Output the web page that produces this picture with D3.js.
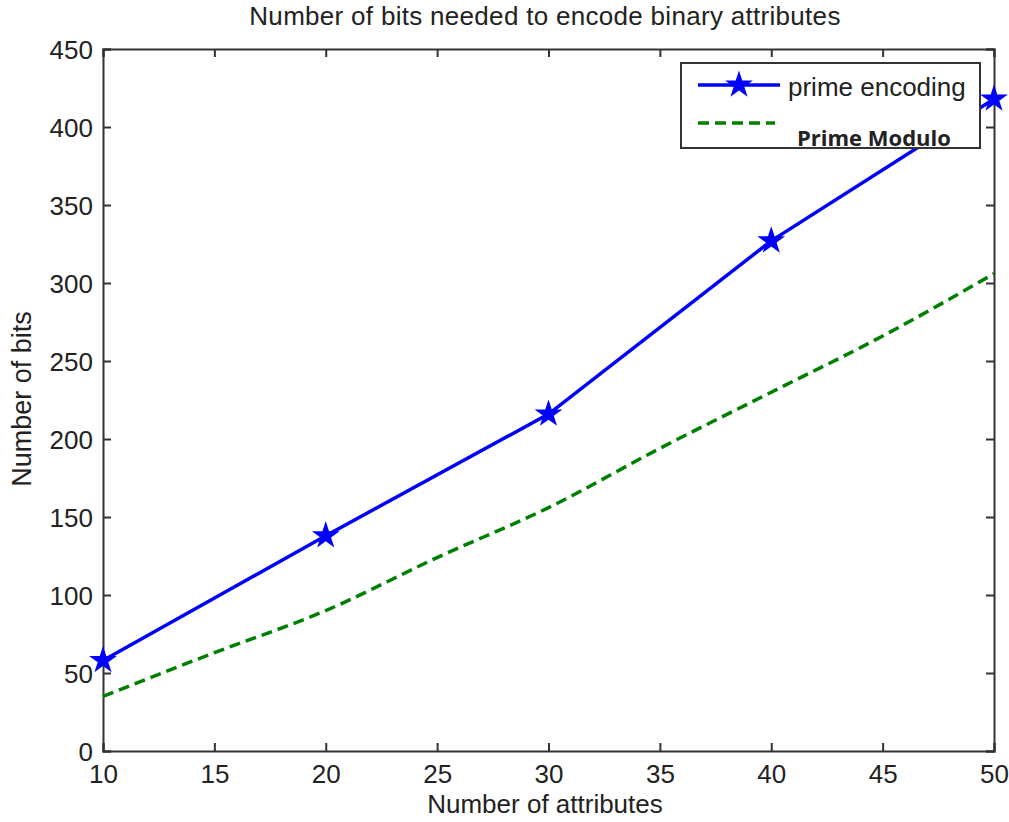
<!DOCTYPE html>
<html>
<head>
<meta charset="utf-8">
<script src="https://cdn.jsdelivr.net/npm/d3@7"></script>
<style>
  body { margin: 0; background: #fff; }
  text { font-family: "Liberation Sans", Arial, sans-serif; fill: #222; }
</style>
</head>
<body>
<svg id="canvas"></svg>
<script>
// data
let attrs = [10, 20, 30, 40, 50];
let primeEncoding = [58, 138, 216, 327, 418];
let moduloX = [10, 15, 20, 25, 30, 35, 40, 45, 50];
let primeModulo = [35, 63, 90, 124, 156, 194, 230, 266, 306];
let xTicks = [10, 15, 20, 25, 30, 35, 40, 45, 50];
let yTicks = [0, 50, 100, 150, 200, 250, 300, 350, 400, 450];

let width = 1009, height = 822;
let plotL = 103, plotR = 994, plotT = 49, plotB = 751;

let svg = d3.select('#canvas')
    .attr('width', width)
    .attr('height', height);

let x = d3.scaleLinear().domain([10, 50]).range([plotL, plotR]);
let y = d3.scaleLinear().domain([0, 450]).range([plotB, plotT]);

// box + inward ticks on all four sides
svg.append('g')
    .attr('transform', 'translate(0,' + plotB + ')')
    .call(d3.axisBottom(x).tickValues(xTicks).tickSize(-8).tickPadding(12))
    .call(g => g.selectAll('text').attr('font-size', 26).attr('dy', '0.75em'));
svg.append('g')
    .attr('transform', 'translate(0,' + plotT + ')')
    .call(d3.axisTop(x).tickValues(xTicks).tickSize(-8).tickFormat(''));
svg.append('g')
    .attr('transform', 'translate(' + plotL + ',0)')
    .call(d3.axisLeft(y).tickValues(yTicks).tickSize(-8).tickPadding(10))
    .call(g => g.selectAll('text').attr('font-size', 26).attr('dy', '0.36em'));
svg.append('g')
    .attr('transform', 'translate(' + plotR + ',0)')
    .call(d3.axisRight(y).tickValues(yTicks).tickSize(-8).tickFormat(''));

svg.selectAll('.domain, .tick line')
    .attr('stroke', '#333')
    .attr('stroke-width', 2);
svg.selectAll('.tick text').attr('fill', '#222').attr('font-family', '"Liberation Sans", Arial, sans-serif');

// lines
let line = d3.line().x(d => x(d[0])).y(d => y(d[1])).curve(d3.curveMonotoneX);

svg.append('path')
    .datum(moduloX.map((v, i) => [v, primeModulo[i]]))
    .attr('d', line)
    .attr('fill', 'none')
    .attr('stroke', '#008000')
    .attr('stroke-width', 3.5)
    .attr('stroke-dasharray', '11,6');

svg.append('path')
    .datum(attrs.map((v, i) => [v, primeEncoding[i]]))
    .attr('d', d3.line().x(d => x(d[0])).y(d => y(d[1])))
    .attr('fill', 'none')
    .attr('stroke', '#0000ff')
    .attr('stroke-width', 3.5);

let star = d3.symbol().type(d3.symbolStar).size(240);
svg.selectAll('.star')
    .data(attrs)
    .enter()
    .append('path')
    .attr('class', 'star')
    .attr('d', star)
    .attr('transform', (d, i) => 'translate(' + x(d) + ',' + y(primeEncoding[i]) + ')')
    .attr('fill', '#0000ff');

// legend
let legend = svg.append('g');
legend.append('rect')
    .attr('x', 681).attr('y', 63)
    .attr('width', 299).attr('height', 85)
    .attr('fill', '#fff')
    .attr('stroke', '#333')
    .attr('stroke-width', 2);
legend.append('line')
    .attr('x1', 698).attr('x2', 780).attr('y1', 85).attr('y2', 85)
    .attr('stroke', '#0000ff').attr('stroke-width', 3.5);
legend.append('path')
    .attr('d', star)
    .attr('transform', 'translate(739,85)')
    .attr('fill', '#0000ff');
legend.append('text')
    .attr('x', 788).attr('y', 96)
    .attr('font-size', 26)
    .text('prime encoding');
legend.append('line')
    .attr('x1', 698).attr('x2', 775).attr('y1', 123).attr('y2', 123)
    .attr('stroke', '#008000').attr('stroke-width', 3.5)
    .attr('stroke-dasharray', '11,6');
legend.append('text')
    .attr('x', 797).attr('y', 146)
    .attr('font-size', 22)
    .attr('font-weight', 'bold')
    .style('font-family', '"Open Sans", sans-serif')
    .text('Prime Modulo');

// titles
svg.append('text')
    .attr('x', 545).attr('y', 25)
    .attr('text-anchor', 'middle')
    .attr('font-size', 26)
    .attr('letter-spacing', 0.3)
    .text('Number of bits needed to encode binary attributes');
svg.append('text')
    .attr('x', 545).attr('y', 813)
    .attr('text-anchor', 'middle')
    .attr('font-size', 26)
    .text('Number of attributes');
svg.append('text')
    .attr('transform', 'translate(31,' + 399 + ') rotate(-90)')
    .attr('text-anchor', 'middle')
    .attr('font-size', 27)
    .text('Number of bits');
</script>
</body>
</html>
